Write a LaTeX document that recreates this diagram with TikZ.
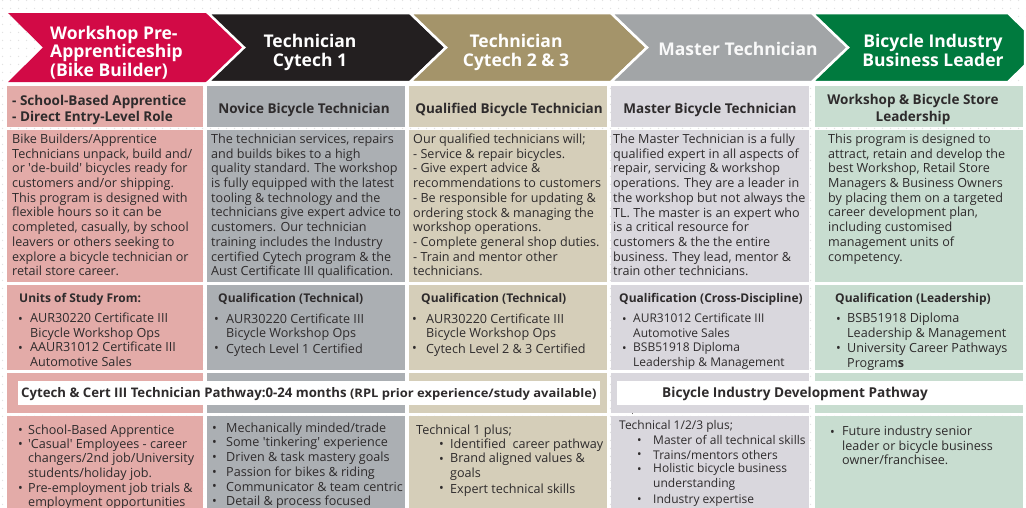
\documentclass[tikz,border=0pt]{standalone}
\usepackage{fontspec}
\setmainfont{Open Sans}
\newfontfamily\widefont{Open Sans}[FakeStretch=1.1]
\usetikzlibrary{patterns}
\definecolor{cred}{HTML}{D20A46}
\definecolor{cblack}{HTML}{231F20}
\definecolor{ctan}{HTML}{A4946A}
\definecolor{cgrayh}{HTML}{A2A5A7}
\definecolor{cgreen}{HTML}{007A3E}
\definecolor{lred}{HTML}{E3ABA8}
\definecolor{lgray}{HTML}{ABAFB3}
\definecolor{ltan}{HTML}{D5CEB9}
\definecolor{llav}{HTML}{D9D7DD}
\definecolor{lgreen}{HTML}{C8DDD0}
\definecolor{txt}{HTML}{2E2B2C}
\definecolor{dotc}{HTML}{E2E2E2}
\pgfdeclarepatternformonly{sparsedots}{\pgfpointorigin}{\pgfpoint{8pt}{8pt}}{\pgfpoint{8pt}{8pt}}{\pgfpathcircle{\pgfpoint{4pt}{4pt}}{0.8pt}\pgfusepath{fill}}
\newcommand{\sq}{\textquotesingle}
\tikzset{
  chev/.style={draw=white, line width=2.5pt, line join=miter},
  hdr/.style={text=white, font=\bfseries\fontsize{17.5}{18.5}\selectfont, inner sep=0pt, align=center, execute at begin node=\strut},
  sub/.style={text=txt, font=\bfseries\fontsize{13.5}{16.5}\selectfont, inner sep=0pt, execute at begin node=\strut},
  body/.style={text=txt, font=\fontsize{12.6}{14.7}\selectfont, inner sep=0pt, align=left, anchor=north west, execute at begin node=\strut},
  bul/.style={text=txt, font=\fontsize{12.6}{14.7}\selectfont, inner sep=0pt, anchor=base west},
  small/.style={font=\fontsize{12}{14.7}\selectfont},
  qhead/.style={text=txt, font=\bfseries\fontsize{12}{14.7}\selectfont, inner sep=0pt, anchor=base west},
  bandtxt/.style={text=txt, font=\bfseries\fontsize{13.2}{15}\selectfont, inner sep=0pt},
  band/.style={fill=white, draw=none},
}
\newcommand{\bitem}[5]{%
  \node[bul] (#1b) at (#2,#4) {\textbullet};
  \node[body] (#1) at (#3,#4-10.29) {#5};}
\newcommand{\sitem}[5]{%
  \node[bul, small] (#1b) at (#2,#4) {\textbullet};
  \node[body, small] (#1) at (#3,#4-10.29) {#5};}
\begin{document}
\begin{tikzpicture}[x=1pt, y=-1pt]
\useasboundingbox (0,0) rectangle (1026,507);
\fill[white] (0,0) rectangle (1026,507);
\fill[pattern=sparsedots, pattern color=dotc] (0,0) rectangle (1026,507);

% chevrons
\fill[cred] (8,13) -- (208,13) -- (244,47.5) -- (208,82) -- (8,82) -- (43,47.5) -- cycle;
\draw[chev, fill=cblack] (208,13) -- (410,13) -- (446,47.5) -- (410,82) -- (208,82) -- (244,47.5) -- cycle;
\draw[chev, fill=ctan] (410,13) -- (611,13) -- (647,47.5) -- (611,82) -- (410,82) -- (446,47.5) -- cycle;
\draw[chev, fill=cgrayh] (611,13) -- (812,13) -- (848,47.5) -- (812,82) -- (611,82) -- (647,47.5) -- cycle;
\draw[chev, fill=cgreen] (812,13) -- (1008,13) -- (1025,29.5) -- (1025,65.5) -- (1008,82) -- (812,82) -- (848,47.5) -- cycle;

\node[hdr, anchor=north west, align=left] (h1) at (50,38.5-12.95) {Workshop Pre-\\Apprenticeship\\(Bike Builder)};
\node[hdr, anchor=north] (h2) at (310,47-12.95) {Technician\\Cytech 1};
\node[hdr, anchor=north] (h3) at (516,47-12.95) {Technician\\Cytech 2 \& 3};
\node[hdr, anchor=base, text=white!95!gray] (h4) at (738,55) {Master Technician};
\node[hdr, anchor=north] (h5) at (933,47-12.95) {Bicycle Industry\\Business Leader};

% cells
\foreach \c/\xa/\xb in {lred/7/203, lgray/207/405, ltan/409/607, llav/611/809, lgreen/815/1023}{
  \fill[\c] (\xa,86) rectangle (\xb,127);
  \fill[\c] (\xa,130) rectangle (\xb,282);
  \fill[\c] (\xa,285) rectangle (\xb,370);
  \fill[\c] (\xa,373) rectangle (\xb,413);
  \fill[\c] (\xa,416) rectangle (\xb,510);
}

% row 1
\node[sub, anchor=north west, align=left] (s1) at (12,106.5-11.55) {- School-Based Apprentice\\- Direct Entry-Level Role};
\node[sub, anchor=base] (s2) at (304,113.5) {Novice Bicycle Technician};
\node[sub, anchor=base] (s3) at (509,113.5) {Qualified Bicycle Technician};
\node[sub, anchor=base] (s4) at (710,113.5) {Master Bicycle Technician};
\node[sub, anchor=north, align=center] (s5) at (913,106-11.55) {Workshop \& Bicycle Store\\Leadership};

% row 2
\node[body] (d1) at (12,144-10.29) {Bike Builders/Apprentice\\Technicians unpack, build and/\\or \sq de-build\sq{} bicycles ready for\\customers and/or shipping.\\This program is designed with\\flexible hours so it can be\\completed, casually, by school\\leavers or others seeking to\\explore a bicycle technician or\\retail store career.};
\node[body] (d2) at (211,144-10.29) {The technician services, repairs\\and builds bikes to a high\\quality standard. The workshop\\is fully equipped with the latest\\tooling \& technology and the\\technicians give expert advice to\\customers. Our technician\\training includes the Industry\\certified Cytech program \& the\\Aust Certificate III qualification.};
\node[body] (d3) at (413,144-10.29) {Our qualified technicians will;\\- Service \& repair bicycles.\\- Give expert advice \&\\recommendations to customers\\- Be responsible for updating \&\\ordering stock \& managing the\\workshop operations.\\- Complete general shop duties.\\- Train and mentor other\\technicians.};
\node[body] (d4) at (613,144-10.29) {The Master Technician is a fully\\qualified expert in all aspects of\\repair, servicing \& workshop\\operations. They are a leader in\\the workshop but not always the\\TL. The master is an expert who\\is a critical resource for\\customers \& the the entire\\business. They lead, mentor \&\\train other technicians.};
\node[body] (d5) at (828,144-10.29) {This program is designed to\\attract, retain and develop the\\best Workshop, Retail Store\\Managers \& Business Owners\\by placing them on a targeted\\career development plan,\\including customised\\management units of\\competency.};

% row 3
\node[qhead] (q1) at (19,302.5) {Units of Study From:};
\bitem{q1a}{18}{30}{323}{AUR30220 Certificate III\\Bicycle Workshop Ops}
\bitem{q1b}{18}{30}{352.4}{AAUR31012 Certificate III\\Automotive Sales}
\node[qhead] (q2) at (218,302.5) {Qualification (Technical)};
\bitem{q2a}{214}{226}{323.5}{AUR30220 Certificate III\\Bicycle Workshop Ops}
\bitem{q2b}{214}{226}{352.9}{Cytech Level 1 Certified}
\node[qhead] (q3) at (421,302.5) {Qualification (Technical)};
\bitem{q3a}{412}{426}{323.5}{AUR30220 Certificate III\\Bicycle Workshop Ops}
\bitem{q3b}{412}{426}{352.9}{Cytech Level 2 \& 3 Certified}
\node[qhead] (q4) at (619,302.5) {Qualification (Cross-Discipline)};
\sitem{q4a}{622}{633}{323.5}{AUR31012 Certificate III\\Automotive Sales}
\sitem{q4b}{622}{633}{352.9}{BSB51918 Diploma\\Leadership \& Management}
\node[qhead] (q5) at (835,302.5) {Qualification (Leadership)};
\bitem{q5a}{836}{847}{323.5}{BSB51918 Diploma\\Leadership \& Management}
\bitem{q5b}{836}{847}{352.9}{University Career Pathways\\Program{\bfseries s}}

% row 4
\fill[band] (18,381) rectangle (600,405);
\fill[band] (617,381) rectangle (1023,405);
\node[bandtxt, anchor=base west] (p1) at (21,397.5) {Cytech \& Cert III Technician Pathway:0-24 months {\widefont\bfseries\fontsize{11.8}{14}\selectfont (RPL prior experience/study available)}};
\node[bandtxt, anchor=base, font=\bfseries\fontsize{13.6}{15}\selectfont] (p2) at (795,397.5) {Bicycle Industry Development Pathway};
\node[bul, font=\fontsize{8}{8}\selectfont] (dot) at (631.5,414) {.};

% row 5
\bitem{e1a}{18}{28}{434}{School-Based Apprentice}
\bitem{e1b}{18}{28}{448.7}{\sq Casual\sq{} Employees - career\\changers/2nd job/University\\students/holiday job.}
\bitem{e1c}{18}{28}{492.8}{Pre-employment job trials \&\\employment opportunities}

\bitem{e2a}{212}{226}{432}{Mechanically minded/trade}
\bitem{e2b}{212}{226}{446.7}{Some \sq tinkering\sq{} experience}
\bitem{e2c}{212}{226}{461.4}{Driven \& task mastery goals}
\bitem{e2d}{212}{226}{476.1}{Passion for bikes \& riding}
\bitem{e2e}{212}{226}{490.8}{Communicator \& team centric}
\bitem{e2f}{212}{226}{505.5}{Detail \& process focused}

\node[body] (e3) at (416,434-10.29) {Technical 1 plus;};
\bitem{e3a}{439}{450}{448.7}{Identified\ \ career pathway}
\bitem{e3b}{439}{450}{463.4}{Brand aligned values \&\\goals}
\bitem{e3c}{439}{450}{492.8}{Expert technical skills}

\node[body, small] (e4) at (619,429.5-10.29) {Technical 1/2/3 plus;};
\sitem{e4a}{637}{653}{444.2}{Master of all technical skills}
\sitem{e4b}{637}{653}{458.9}{Trains/mentors others}
\sitem{e4c}{637}{653}{473.6}{Holistic bicycle business\\understanding}
\sitem{e4d}{637}{653}{503}{Industry expertise}

\bitem{e5a}{830}{842}{436}{Future industry senior\\leader or bicycle business\\owner/franchisee.}
\end{tikzpicture}
\end{document}
